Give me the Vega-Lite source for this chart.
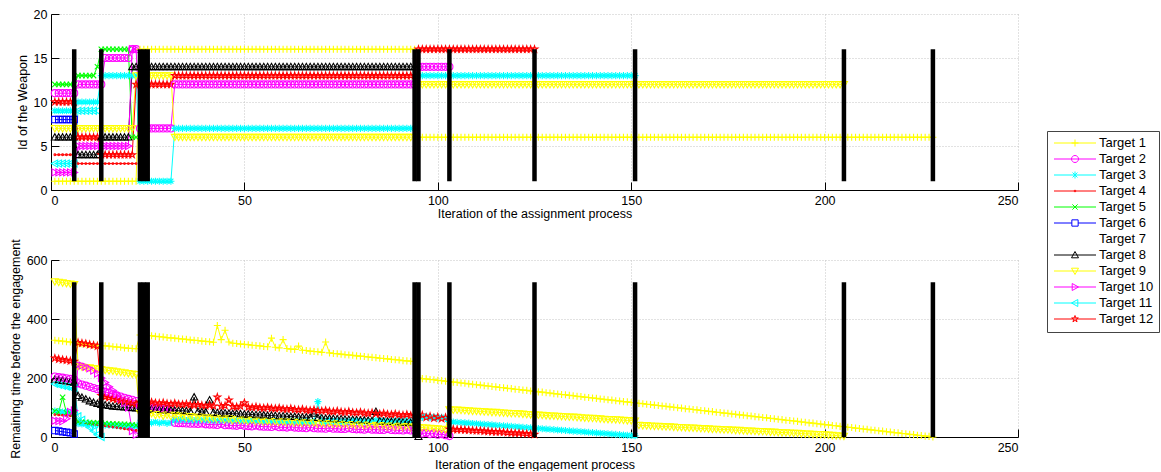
{
  "$schema": "https://vega.github.io/schema/vega-lite/v6.json",
  "background": "white",
  "padding": {"left": 9, "top": 8, "right": 0, "bottom": 0},
  "spacing": 18,
  "config": {
    "view": {"stroke": null},
    "font": "Liberation Sans",
    "axis": {
      "labelFont": "Liberation Sans", "labelFontSize": 12.5, "labelColor": "#000",
      "titleFont": "Liberation Sans", "titleFontSize": 12.5, "titleFontWeight": "normal", "titleColor": "#000",
      "domainColor": "#000", "tickColor": "#000", "tickSize": -8, "labelPadding": 12,
      "gridColor": "#c4c4c4", "gridDash": [1, 2], "gridOpacity": 1, "titlePadding": 4
    },
    "legend": {
      "orient": "none", "legendX": 996, "legendY": 117,
      "strokeColor": "#444", "fillColor": "white", "padding": 5.5, "cornerRadius": 0,
      "labelFont": "Liberation Sans", "labelFontSize": 13, "labelColor": "#000",
      "symbolSize": 49, "symbolStrokeWidth": 1, "symbolOffset": 16, "labelOffset": 17.5, "rowPadding": 2
    }
  },
  "datasets": {
    "bars": [{"x":6},{"x":13},{"x":23},{"x":24},{"x":25},{"x":94},{"x":95},{"x":103},{"x":125},{"x":151},{"x":205},{"x":228}],
    "rows": [
{"x":1,"a":1,"b":11,"c":9,"d":4,"e":12,"f":8,"h":6,"i":7,"j":2,"k":3,"l":10,"A":328,"B":205,"C":88,"D":76,"E":88,"F":22,"H":195,"I":527,"J":55,"K":180,"L":267},
{"x":2,"a":1,"b":11,"c":9,"d":4,"e":12,"f":8,"h":6,"i":7,"j":2,"k":3,"l":10,"A":326,"B":203,"C":86,"D":75,"E":85,"F":20,"H":193,"I":525,"J":54,"K":177,"L":264},
{"x":3,"a":1,"b":11,"c":9,"d":4,"e":12,"f":8,"h":6,"i":7,"j":2,"k":3,"l":10,"A":325,"B":201,"C":85,"D":74,"E":135,"F":18,"H":191,"I":523,"J":53,"K":174,"L":262},
{"x":4,"a":1,"b":11,"c":9,"d":4,"e":12,"f":8,"h":6,"i":7,"j":2,"k":3,"l":10,"A":323,"B":199,"C":84,"D":73,"E":82,"F":16,"H":189,"I":521,"J":62,"K":171,"L":260},
{"x":5,"a":1,"b":11,"c":9,"d":4,"e":12,"f":8,"h":6,"i":7,"j":2,"k":3,"l":10,"A":322,"B":197,"C":83,"D":72,"E":80,"F":14,"H":187,"I":519,"J":85,"K":168,"L":258},
{"x":6,"a":1,"b":11,"c":9,"d":4,"e":12,"f":8,"h":6,"i":7,"j":2,"k":3,"l":10,"A":320,"B":195,"C":82,"D":71,"E":78,"F":10,"H":185,"I":517,"J":90,"K":165,"L":256},
{"x":7,"a":1,"b":12,"c":10,"d":3,"e":13,"h":4,"i":7,"j":5,"k":9,"l":6,"A":318,"B":182,"C":45,"D":52,"E":52,"H":140,"I":240,"J":245,"K":70,"L":320},
{"x":8,"a":1,"b":12,"c":10,"d":3,"e":13,"h":4,"i":7,"j":5,"k":9,"l":6,"A":316,"B":178,"C":44,"D":50,"E":51,"H":134,"I":238,"J":242,"K":58,"L":318},
{"x":9,"a":1,"b":12,"c":10,"d":3,"e":13,"h":4,"i":7,"j":5,"k":9,"l":6,"A":315,"B":174,"C":44,"D":48,"E":50,"H":128,"I":236,"J":238,"K":45,"L":316},
{"x":10,"a":1,"b":12,"c":10,"d":3,"e":13,"h":4,"i":7,"j":5,"k":9,"l":6,"A":314,"B":170,"C":43,"D":46,"E":49,"H":122,"I":235,"J":233,"K":32,"L":313},
{"x":11,"a":1,"b":12,"c":10,"d":3,"e":13,"h":4,"i":7,"j":5,"k":9,"l":6,"A":312,"B":166,"C":42,"D":44,"E":48,"H":117,"I":233,"J":225,"K":20,"L":311},
{"x":12,"a":1,"b":12,"c":10,"d":3,"e":14,"h":4,"i":7,"j":5,"k":9,"l":6,"A":311,"B":162,"C":42,"D":42,"E":48,"H":113,"I":231,"J":215,"K":8,"L":308},
{"x":13,"a":1,"b":12,"c":13,"d":3,"e":16,"h":6,"i":7,"j":5,"l":4,"A":310,"B":158,"C":41,"D":40,"E":47,"H":110,"I":229,"J":200,"K":0,"L":140},
{"x":14,"a":1,"b":15,"c":13,"d":3,"e":16,"h":6,"i":7,"j":5,"l":4,"A":309,"B":153,"C":40,"D":38,"E":46,"H":108,"I":227,"J":185,"L":136},
{"x":15,"a":1,"b":15,"c":13,"d":3,"e":16,"h":6,"i":7,"j":5,"l":4,"A":308,"B":149,"C":40,"D":36,"E":45,"H":106,"I":225,"J":170,"L":133},
{"x":16,"a":1,"b":15,"c":13,"d":3,"e":16,"h":6,"i":7,"j":5,"l":4,"A":306,"B":145,"C":39,"D":34,"E":45,"H":104,"I":224,"J":158,"L":130},
{"x":17,"a":1,"b":15,"c":13,"d":3,"e":16,"h":6,"i":7,"j":5,"l":4,"A":305,"B":141,"C":38,"D":32,"E":44,"H":103,"I":222,"J":145,"L":127},
{"x":18,"a":1,"b":15,"c":13,"d":3,"e":16,"h":6,"i":7,"j":5,"l":4,"A":304,"B":137,"C":38,"D":30,"E":43,"H":102,"I":220,"J":130,"L":124},
{"x":19,"a":1,"b":15,"c":13,"d":3,"e":16,"h":6,"i":7,"j":5,"l":4,"A":302,"B":133,"C":37,"D":28,"E":43,"H":101,"I":218,"J":115,"L":121},
{"x":20,"a":1,"b":15,"c":13,"d":3,"e":16,"h":6,"i":7,"j":5,"l":4,"A":301,"B":129,"C":36,"D":26,"E":42,"H":100,"I":216,"J":100,"L":118},
{"x":21,"a":1,"b":16,"c":13,"d":3,"e":6,"h":14,"i":7,"j":16,"l":4,"A":300,"B":126,"C":36,"D":24,"E":41,"H":99,"I":214,"J":20,"L":115},
{"x":22,"a":1,"b":16,"c":13,"d":3,"e":6,"h":14,"i":13,"j":16,"l":12,"A":299,"B":122,"C":35,"D":22,"E":40,"H":98,"I":212,"J":8,"L":112},
{"x":23,"a":16,"b":7,"c":1,"h":14,"i":13,"l":12,"A":346,"B":104,"C":50,"H":96,"I":80,"L":118},
{"x":24,"a":16,"b":7,"c":1,"h":14,"i":13,"l":12,"A":345,"B":103,"C":49,"H":95,"I":79,"L":117},
{"x":25,"a":16,"b":7,"c":1,"h":14,"i":13,"l":12,"A":344,"B":102,"C":52,"H":95,"I":78,"L":116},
{"x":26,"a":16,"b":7,"c":1,"h":14,"i":13,"l":12,"A":343,"B":101,"C":48,"H":94,"I":80,"L":118},
{"x":27,"a":16,"b":7,"c":1,"h":14,"i":13,"l":12,"A":341,"B":100,"C":51,"H":93,"I":74,"L":115},
{"x":28,"a":16,"b":7,"c":1,"h":14,"i":13,"l":12,"A":340,"B":98,"C":47,"H":93,"I":77,"L":114},
{"x":29,"a":16,"b":7,"c":1,"h":14,"i":13,"l":12,"A":339,"B":97,"C":50,"H":92,"I":72,"L":116},
{"x":30,"a":16,"b":7,"c":1,"h":14,"i":13,"l":12,"A":337,"B":96,"C":46,"H":91,"I":75,"L":113},
{"x":31,"a":16,"b":7,"c":1,"h":14,"i":13,"l":12,"A":336,"B":95,"C":49,"H":91,"I":70,"L":112},
{"x":32,"a":16,"b":12,"c":7,"h":14,"i":6,"l":13,"A":335,"B":48,"C":58,"H":90,"I":74,"L":114},
{"x":33,"a":16,"b":12,"c":7,"h":14,"i":6,"l":13,"A":333,"B":47,"C":57,"H":89,"I":68,"L":111},
{"x":34,"a":16,"b":12,"c":7,"h":14,"i":6,"l":13,"A":332,"B":47,"C":59,"H":89,"I":72,"L":110},
{"x":35,"a":16,"b":12,"c":7,"h":14,"i":6,"l":13,"A":331,"B":46,"C":56,"H":88,"I":66,"L":112},
{"x":36,"a":16,"b":12,"c":7,"h":14,"i":6,"l":13,"A":329,"B":45,"C":58,"H":87,"I":70,"L":109},
{"x":37,"a":16,"b":12,"c":7,"h":14,"i":6,"l":13,"A":328,"B":45,"C":55,"H":135,"I":64,"L":108},
{"x":38,"a":16,"b":12,"c":7,"h":14,"i":6,"l":13,"A":327,"B":44,"C":57,"H":86,"I":68,"L":110},
{"x":39,"a":16,"b":12,"c":7,"h":14,"i":6,"l":13,"A":325,"B":46,"C":56,"H":85,"I":62,"L":107},
{"x":40,"a":16,"b":12,"c":7,"h":14,"i":6,"l":13,"A":324,"B":43,"C":58,"H":84,"I":66,"L":106},
{"x":41,"a":16,"b":12,"c":7,"h":14,"i":6,"l":13,"A":323,"B":42,"C":55,"H":125,"I":60,"L":108},
{"x":42,"a":16,"b":12,"c":7,"h":14,"i":6,"l":13,"A":321,"B":42,"C":57,"H":83,"I":65,"L":105},
{"x":43,"a":16,"b":12,"c":7,"h":14,"i":6,"l":13,"A":378,"B":41,"C":54,"H":82,"I":58,"L":135},
{"x":44,"a":16,"b":12,"c":7,"h":14,"i":6,"l":13,"A":330,"B":44,"C":56,"H":81,"I":63,"L":104},
{"x":45,"a":16,"b":12,"c":7,"h":14,"i":6,"l":13,"A":362,"B":40,"C":55,"H":81,"I":57,"L":106},
{"x":46,"a":16,"b":12,"c":7,"h":14,"i":6,"l":13,"A":322,"B":40,"C":57,"H":80,"I":62,"L":125},
{"x":47,"a":16,"b":12,"c":7,"h":14,"i":6,"l":13,"A":318,"B":39,"C":54,"H":79,"I":55,"L":103},
{"x":48,"a":16,"b":12,"c":7,"h":14,"i":6,"l":13,"A":317,"B":38,"C":56,"H":79,"I":60,"L":102},
{"x":49,"a":16,"b":12,"c":7,"h":14,"i":6,"l":13,"A":315,"B":41,"C":53,"H":78,"I":54,"L":104},
{"x":50,"a":16,"b":12,"c":7,"h":14,"i":6,"l":13,"A":314,"B":38,"C":55,"H":77,"I":58,"L":116},
{"x":51,"a":16,"b":12,"c":7,"h":14,"i":6,"l":13,"A":313,"B":37,"C":54,"H":77,"I":52,"L":101},
{"x":52,"a":16,"b":12,"c":7,"h":14,"i":6,"l":13,"A":311,"B":36,"C":56,"H":76,"I":57,"L":100},
{"x":53,"a":16,"b":12,"c":7,"h":14,"i":6,"l":13,"A":310,"B":39,"C":53,"H":75,"I":51,"L":102},
{"x":54,"a":16,"b":12,"c":7,"h":14,"i":6,"l":13,"A":309,"B":36,"C":55,"H":75,"I":55,"L":99},
{"x":55,"a":16,"b":12,"c":7,"h":14,"i":6,"l":13,"A":307,"B":35,"C":52,"H":74,"I":50,"L":98},
{"x":56,"a":16,"b":12,"c":7,"h":14,"i":6,"l":13,"A":306,"B":35,"C":54,"H":73,"I":54,"L":100},
{"x":57,"a":16,"b":12,"c":7,"h":14,"i":6,"l":13,"A":335,"B":34,"C":53,"H":73,"I":49,"L":97},
{"x":58,"a":16,"b":12,"c":7,"h":14,"i":6,"l":13,"A":304,"B":37,"C":55,"H":72,"I":53,"L":96},
{"x":59,"a":16,"b":12,"c":7,"h":14,"i":6,"l":13,"A":302,"B":33,"C":52,"H":71,"I":48,"L":98},
{"x":60,"a":16,"b":12,"c":7,"h":14,"i":6,"l":13,"A":330,"B":33,"C":54,"H":71,"I":52,"L":95},
{"x":61,"a":16,"b":12,"c":7,"h":14,"i":6,"l":13,"A":300,"B":32,"C":51,"H":70,"I":47,"L":94},
{"x":62,"a":16,"b":12,"c":7,"h":14,"i":6,"l":13,"A":298,"B":35,"C":53,"H":69,"I":51,"L":96},
{"x":63,"a":16,"b":12,"c":7,"h":14,"i":6,"l":13,"A":297,"B":32,"C":52,"H":69,"I":46,"L":93},
{"x":64,"a":16,"b":12,"c":7,"h":14,"i":6,"l":13,"A":308,"B":31,"C":54,"H":68,"I":50,"L":92},
{"x":65,"a":16,"b":12,"c":7,"h":14,"i":6,"l":13,"A":294,"B":31,"C":51,"H":67,"I":45,"L":94},
{"x":66,"a":16,"b":12,"c":7,"h":14,"i":6,"l":13,"A":293,"B":30,"C":53,"H":67,"I":49,"L":91},
{"x":67,"a":16,"b":12,"c":7,"h":14,"i":6,"l":13,"A":291,"B":33,"C":50,"H":66,"I":44,"L":90},
{"x":68,"a":16,"b":12,"c":7,"h":14,"i":6,"l":13,"A":290,"B":30,"C":52,"H":80,"I":48,"L":92},
{"x":69,"a":16,"b":12,"c":7,"h":14,"i":6,"l":13,"A":289,"B":29,"C":120,"H":65,"I":43,"L":89},
{"x":70,"a":16,"b":12,"c":7,"h":14,"i":6,"l":13,"A":287,"B":29,"C":53,"H":64,"I":47,"L":88},
{"x":71,"a":16,"b":12,"c":7,"h":14,"i":6,"l":13,"A":322,"B":28,"C":51,"H":63,"I":42,"L":90},
{"x":72,"a":16,"b":12,"c":7,"h":14,"i":6,"l":13,"A":285,"B":31,"C":55,"H":63,"I":46,"L":87},
{"x":73,"a":16,"b":12,"c":7,"h":14,"i":6,"l":13,"A":283,"B":28,"C":52,"H":62,"I":41,"L":86},
{"x":74,"a":16,"b":12,"c":7,"h":14,"i":6,"l":13,"A":282,"B":28,"C":54,"H":61,"I":45,"L":88},
{"x":75,"a":16,"b":12,"c":7,"h":14,"i":6,"l":13,"A":281,"B":27,"C":51,"H":61,"I":40,"L":85},
{"x":76,"a":16,"b":12,"c":7,"h":14,"i":6,"l":13,"A":279,"B":27,"C":53,"H":60,"I":44,"L":84},
{"x":77,"a":16,"b":12,"c":7,"h":14,"i":6,"l":13,"A":278,"B":30,"C":52,"H":59,"I":39,"L":86},
{"x":78,"a":16,"b":12,"c":7,"h":14,"i":6,"l":13,"A":277,"B":27,"C":56,"H":59,"I":43,"L":83},
{"x":79,"a":16,"b":12,"c":7,"h":14,"i":6,"l":13,"A":275,"B":26,"C":53,"H":58,"I":38,"L":82},
{"x":80,"a":16,"b":12,"c":7,"h":14,"i":6,"l":13,"A":274,"B":26,"C":55,"H":57,"I":42,"L":84},
{"x":81,"a":16,"b":12,"c":7,"h":14,"i":6,"l":13,"A":273,"B":25,"C":52,"H":57,"I":37,"L":81},
{"x":82,"a":16,"b":12,"c":7,"h":14,"i":6,"l":13,"A":271,"B":28,"C":54,"H":56,"I":41,"L":80},
{"x":83,"a":16,"b":12,"c":7,"h":14,"i":6,"l":13,"A":270,"B":25,"C":53,"H":55,"I":36,"L":82},
{"x":84,"a":16,"b":12,"c":7,"h":14,"i":6,"l":13,"A":269,"B":25,"C":57,"H":86,"I":40,"L":79},
{"x":85,"a":16,"b":12,"c":7,"h":14,"i":6,"l":13,"A":267,"B":24,"C":54,"H":54,"I":35,"L":78},
{"x":86,"a":16,"b":12,"c":7,"h":14,"i":6,"l":13,"A":266,"B":24,"C":56,"H":53,"I":39,"L":80},
{"x":87,"a":16,"b":12,"c":7,"h":14,"i":6,"l":13,"A":265,"B":27,"C":53,"H":53,"I":34,"L":77},
{"x":88,"a":16,"b":12,"c":7,"h":14,"i":6,"l":13,"A":263,"B":24,"C":55,"H":52,"I":38,"L":76},
{"x":89,"a":16,"b":12,"c":7,"h":14,"i":6,"l":13,"A":262,"B":23,"C":54,"H":51,"I":33,"L":78},
{"x":90,"a":16,"b":12,"c":7,"h":14,"i":6,"l":13,"A":261,"B":23,"C":58,"H":51,"I":37,"L":75},
{"x":91,"a":16,"b":12,"c":7,"h":14,"i":6,"l":13,"A":259,"B":22,"C":55,"H":50,"I":32,"L":74},
{"x":92,"a":16,"b":12,"c":7,"h":14,"i":6,"l":13,"A":258,"B":25,"C":57,"H":49,"I":36,"L":76},
{"x":93,"a":16,"b":12,"c":7,"h":14,"i":6,"l":13,"A":257,"B":22,"C":56,"H":49,"I":31,"L":73},
{"x":94,"a":16,"b":12,"c":7,"h":14,"i":6,"l":13,"A":256,"B":22,"C":60,"H":48,"I":35,"L":72},
{"x":95,"a":6,"b":14,"c":13,"i":12,"l":16,"A":200,"B":15,"C":68,"H":1,"I":33,"L":68},
{"x":96,"a":6,"b":14,"c":13,"i":12,"l":16,"A":198,"B":12,"C":66,"I":32,"L":74},
{"x":97,"a":6,"b":14,"c":13,"i":12,"l":16,"A":197,"B":14,"C":70,"I":31,"L":66},
{"x":98,"a":6,"b":14,"c":13,"i":12,"l":16,"A":195,"B":10,"C":65,"I":30,"L":70},
{"x":99,"a":6,"b":14,"c":13,"i":12,"l":16,"A":194,"B":12,"C":68,"I":29,"L":64},
{"x":100,"a":6,"b":14,"c":13,"i":12,"l":16,"A":192,"B":8,"C":64,"I":28,"L":68},
{"x":101,"a":6,"b":14,"c":13,"i":12,"l":16,"A":191,"B":10,"C":67,"I":27,"L":62},
{"x":102,"a":6,"b":14,"c":13,"i":12,"l":16,"A":189,"B":6,"C":63,"I":26,"L":66},
{"x":103,"a":6,"b":14,"c":13,"i":12,"l":16,"A":188,"B":3,"C":52,"I":93,"L":27},
{"x":104,"a":6,"c":13,"i":12,"l":16,"A":186,"C":51,"I":92,"L":26},
{"x":105,"a":6,"c":13,"i":12,"l":16,"A":185,"C":50,"I":92,"L":25},
{"x":106,"a":6,"c":13,"i":12,"l":16,"A":183,"C":49,"I":91,"L":25},
{"x":107,"a":6,"c":13,"i":12,"l":16,"A":182,"C":48,"I":90,"L":24},
{"x":108,"a":6,"c":13,"i":12,"l":16,"A":180,"C":47,"I":89,"L":23},
{"x":109,"a":6,"c":13,"i":12,"l":16,"A":179,"C":46,"I":88,"L":22},
{"x":110,"a":6,"c":13,"i":12,"l":16,"A":177,"C":45,"I":88,"L":21},
{"x":111,"a":6,"c":13,"i":12,"l":16,"A":176,"C":44,"I":87,"L":21},
{"x":112,"a":6,"c":13,"i":12,"l":16,"A":174,"C":43,"I":86,"L":20},
{"x":113,"a":6,"c":13,"i":12,"l":16,"A":173,"C":42,"I":85,"L":19},
{"x":114,"a":6,"c":13,"i":12,"l":16,"A":171,"C":41,"I":84,"L":18},
{"x":115,"a":6,"c":13,"i":12,"l":16,"A":170,"C":40,"I":84,"L":17},
{"x":116,"a":6,"c":13,"i":12,"l":16,"A":168,"C":39,"I":83,"L":17},
{"x":117,"a":6,"c":13,"i":12,"l":16,"A":167,"C":38,"I":82,"L":16},
{"x":118,"a":6,"c":13,"i":12,"l":16,"A":165,"C":37,"I":81,"L":15},
{"x":119,"a":6,"c":13,"i":12,"l":16,"A":164,"C":36,"I":80,"L":14},
{"x":120,"a":6,"c":13,"i":12,"l":16,"A":162,"C":35,"I":80,"L":13},
{"x":121,"a":6,"c":13,"i":12,"l":16,"A":161,"C":34,"I":79,"L":13},
{"x":122,"a":6,"c":13,"i":12,"l":16,"A":159,"C":33,"I":78,"L":12},
{"x":123,"a":6,"c":13,"i":12,"l":16,"A":158,"C":32,"I":77,"L":11},
{"x":124,"a":6,"c":13,"i":12,"l":16,"A":156,"C":31,"I":76,"L":10},
{"x":125,"a":6,"c":13,"i":12,"l":16,"A":155,"C":30,"I":76,"L":9},
{"x":126,"a":6,"c":13,"i":12,"A":153,"C":29,"I":75},
{"x":127,"a":6,"c":13,"i":12,"A":152,"C":28,"I":74},
{"x":128,"a":6,"c":13,"i":12,"A":150,"C":27,"I":73},
{"x":129,"a":6,"c":13,"i":12,"A":149,"C":26,"I":72},
{"x":130,"a":6,"c":13,"i":12,"A":147,"C":25,"I":72},
{"x":131,"a":6,"c":13,"i":12,"A":146,"C":24,"I":71},
{"x":132,"a":6,"c":13,"i":12,"A":144,"C":23,"I":70},
{"x":133,"a":6,"c":13,"i":12,"A":143,"C":22,"I":69},
{"x":134,"a":6,"c":13,"i":12,"A":141,"C":21,"I":68},
{"x":135,"a":6,"c":13,"i":12,"A":140,"C":20,"I":68},
{"x":136,"a":6,"c":13,"i":12,"A":138,"C":19,"I":67},
{"x":137,"a":6,"c":13,"i":12,"A":137,"C":18,"I":66},
{"x":138,"a":6,"c":13,"i":12,"A":135,"C":17,"I":65},
{"x":139,"a":6,"c":13,"i":12,"A":134,"C":16,"I":64},
{"x":140,"a":6,"c":13,"i":12,"A":132,"C":15,"I":64},
{"x":141,"a":6,"c":13,"i":12,"A":131,"C":14,"I":63},
{"x":142,"a":6,"c":13,"i":12,"A":129,"C":13,"I":62},
{"x":143,"a":6,"c":13,"i":12,"A":128,"C":12,"I":61},
{"x":144,"a":6,"c":13,"i":12,"A":126,"C":11,"I":60},
{"x":145,"a":6,"c":13,"i":12,"A":125,"C":10,"I":60},
{"x":146,"a":6,"c":13,"i":12,"A":123,"C":9,"I":59},
{"x":147,"a":6,"c":13,"i":12,"A":122,"C":8,"I":58},
{"x":148,"a":6,"c":13,"i":12,"A":120,"C":7,"I":57},
{"x":149,"a":6,"c":13,"i":12,"A":119,"C":6,"I":56},
{"x":150,"a":6,"c":13,"i":12,"A":117,"C":5,"I":56},
{"x":151,"a":6,"c":13,"i":12,"A":116,"C":4,"I":55},
{"x":152,"a":6,"i":12,"A":114,"I":40},
{"x":153,"a":6,"i":12,"A":113,"I":39},
{"x":154,"a":6,"i":12,"A":111,"I":39},
{"x":155,"a":6,"i":12,"A":110,"I":38},
{"x":156,"a":6,"i":12,"A":108,"I":37},
{"x":157,"a":6,"i":12,"A":107,"I":37},
{"x":158,"a":6,"i":12,"A":105,"I":36},
{"x":159,"a":6,"i":12,"A":104,"I":35},
{"x":160,"a":6,"i":12,"A":102,"I":35},
{"x":161,"a":6,"i":12,"A":101,"I":34},
{"x":162,"a":6,"i":12,"A":99,"I":33},
{"x":163,"a":6,"i":12,"A":98,"I":33},
{"x":164,"a":6,"i":12,"A":96,"I":32},
{"x":165,"a":6,"i":12,"A":95,"I":31},
{"x":166,"a":6,"i":12,"A":93,"I":31},
{"x":167,"a":6,"i":12,"A":92,"I":30},
{"x":168,"a":6,"i":12,"A":90,"I":29},
{"x":169,"a":6,"i":12,"A":89,"I":29},
{"x":170,"a":6,"i":12,"A":87,"I":28},
{"x":171,"a":6,"i":12,"A":86,"I":27},
{"x":172,"a":6,"i":12,"A":84,"I":27},
{"x":173,"a":6,"i":12,"A":83,"I":26},
{"x":174,"a":6,"i":12,"A":81,"I":25},
{"x":175,"a":6,"i":12,"A":80,"I":25},
{"x":176,"a":6,"i":12,"A":78,"I":24},
{"x":177,"a":6,"i":12,"A":77,"I":23},
{"x":178,"a":6,"i":12,"A":75,"I":23},
{"x":179,"a":6,"i":12,"A":74,"I":22},
{"x":180,"a":6,"i":12,"A":72,"I":21},
{"x":181,"a":6,"i":12,"A":71,"I":21},
{"x":182,"a":6,"i":12,"A":69,"I":20},
{"x":183,"a":6,"i":12,"A":68,"I":19},
{"x":184,"a":6,"i":12,"A":66,"I":19},
{"x":185,"a":6,"i":12,"A":65,"I":18},
{"x":186,"a":6,"i":12,"A":63,"I":17},
{"x":187,"a":6,"i":12,"A":62,"I":17},
{"x":188,"a":6,"i":12,"A":60,"I":16},
{"x":189,"a":6,"i":12,"A":59,"I":15},
{"x":190,"a":6,"i":12,"A":57,"I":15},
{"x":191,"a":6,"i":12,"A":56,"I":14},
{"x":192,"a":6,"i":12,"A":54,"I":13},
{"x":193,"a":6,"i":12,"A":53,"I":13},
{"x":194,"a":6,"i":12,"A":51,"I":12},
{"x":195,"a":6,"i":12,"A":50,"I":11},
{"x":196,"a":6,"i":12,"A":48,"I":11},
{"x":197,"a":6,"i":12,"A":47,"I":10},
{"x":198,"a":6,"i":12,"A":45,"I":9},
{"x":199,"a":6,"i":12,"A":44,"I":9},
{"x":200,"a":6,"i":12,"A":42,"I":8},
{"x":201,"a":6,"i":12,"A":41,"I":7},
{"x":202,"a":6,"i":12,"A":39,"I":6},
{"x":203,"a":6,"i":12,"A":38,"I":5},
{"x":204,"a":6,"i":12,"A":36,"I":4},
{"x":205,"a":6,"i":12,"A":35,"I":3},
{"x":206,"a":6,"A":33},{"x":207,"a":6,"A":32},{"x":208,"a":6,"A":30},{"x":209,"a":6,"A":29},{"x":210,"a":6,"A":27},
{"x":211,"a":6,"A":26},{"x":212,"a":6,"A":24},{"x":213,"a":6,"A":23},{"x":214,"a":6,"A":21},{"x":215,"a":6,"A":20},
{"x":216,"a":6,"A":18},{"x":217,"a":6,"A":17},{"x":218,"a":6,"A":15},{"x":219,"a":6,"A":14},{"x":220,"a":6,"A":12},
{"x":221,"a":6,"A":11},{"x":222,"a":6,"A":9},{"x":223,"a":6,"A":8},{"x":224,"a":6,"A":6},{"x":225,"a":6,"A":5},
{"x":226,"a":6,"A":3},{"x":227,"a":6,"A":2},{"x":228,"a":6,"A":0}
    ]
  },
  "resolve": {"scale": {"color": "shared", "shape": "shared"}},
  "vconcat": [
    {
      "width": 967, "height": 176,
      "layer": [
        {
          "data": {"name": "rows"},
          "transform": [
            {"fold": ["a","b","c","d","e","f","h","i","j","k","l"], "as": ["key","v"]},
            {"filter": "isValid(datum.v)"},
            {"calculate": "'Target ' + (indexof('abcdefghijkl', datum.key) + 1)", "as": "t"}
          ],
          "mark": {"type": "line", "strokeWidth": 1, "interpolate": "linear"},
          "encoding": {
            "x": {"field": "x", "type": "quantitative", "scale": {"domain": [0, 250], "nice": false}, "axis": {"title": "Iteration of the assignment process", "values": [0,50,100,150,200,250], "grid": true, "titlePadding": 1}},
            "y": {"field": "v", "type": "quantitative", "scale": {"domain": [0, 20], "nice": false}, "axis": {"title": "Id of the Weapon", "values": [0,5,10,15,20], "grid": true}},
            "color": {"field": "t", "type": "nominal", "legend": {"title": null},
              "scale": {"domain": ["Target 1","Target 2","Target 3","Target 4","Target 5","Target 6","Target 7","Target 8","Target 9","Target 10","Target 11","Target 12"],
                        "range": ["#ffff00","#ff00ff","#00ffff","#ff0000","#00ff00","#0000ff","#ffffff","#000000","#ffff00","#ff00ff","#00ffff","#ff0000"]}}
          }
        },
        {
          "data": {"name": "rows"},
          "transform": [
            {"fold": ["a","b","c","d","e","f","h","i","j","k","l"], "as": ["key","v"]},
            {"filter": "isValid(datum.v)"},
            {"calculate": "'Target ' + (indexof('abcdefghijkl', datum.key) + 1)", "as": "t"},
            {"calculate": "{'Target 1':'M-1,0L1,0M0,-1L0,1','Target 2':'circle','Target 3':'M-1,0L1,0M0,-1L0,1M-0.7,-0.7L0.7,0.7M-0.7,0.7L0.7,-0.7','Target 4':'M-0.25,0A0.25,0.25 0 1,0 0.25,0A0.25,0.25 0 1,0 -0.25,0','Target 5':'M-0.75,-0.75L0.75,0.75M-0.75,0.75L0.75,-0.75','Target 6':'M-0.9,-0.9L0.9,-0.9L0.9,0.9L-0.9,0.9Z','Target 7':'M0,0','Target 8':'M0,-1L1,0.8L-1,0.8Z','Target 9':'M-1,-0.8L1,-0.8L0,1Z','Target 10':'M-0.8,-1L1,0L-0.8,1Z','Target 11':'M0.8,-1L-1,0L0.8,1Z','Target 12':'M0,-1L0.225,-0.309L0.951,-0.309L0.363,0.118L0.588,0.809L0,0.382L-0.588,0.809L-0.363,0.118L-0.951,-0.309L-0.225,-0.309Z'}[datum.t]", "as": "mk"}
          ],
          "mark": {"type": "point", "filled": false, "strokeWidth": 1.1, "size": 50, "opacity": 1},
          "encoding": {
            "x": {"field": "x", "type": "quantitative"},
            "y": {"field": "v", "type": "quantitative"},
            "color": {"field": "t", "type": "nominal", "legend": {"title": null}},
            "shape": {"field": "mk", "type": "nominal", "scale": null, "legend": null}
          }
        },
        {
          "data": {"name": "rows"},
          "transform": [
            {"filter": "false"},
            {"calculate": "'x'", "as": "t"}
          ],
          "mark": {"type": "point", "filled": false, "strokeWidth": 1},
          "encoding": {
            "color": {"field": "t", "type": "nominal", "legend": {"title": null}},
            "shape": {"field": "t", "type": "nominal", "legend": {"title": null},
              "scale": {"domain": ["Target 1","Target 2","Target 3","Target 4","Target 5","Target 6","Target 7","Target 8","Target 9","Target 10","Target 11","Target 12"],
                        "range": ["M-6,0L6,0M-1,0L1,0M0,-1L0,1","M-6,0L6,0M-1,0A1,1 0 1,0 1,0A1,1 0 1,0 -1,0","M-6,0L6,0M0,-1L0,1M-0.7,-0.7L0.7,0.7M-0.7,0.7L0.7,-0.7","M-6,0L6,0M-0.25,0A0.25,0.25 0 1,0 0.25,0A0.25,0.25 0 1,0 -0.25,0","M-6,0L6,0M-0.75,-0.75L0.75,0.75M-0.75,0.75L0.75,-0.75","M-6,0L-0.9,0M0.9,0L6,0M-0.9,-0.9L0.9,-0.9L0.9,0.9L-0.9,0.9Z","M0,0","M-6,0L6,0M0,-1L1,0.8L-1,0.8Z","M-6,0L6,0M-1,-0.8L1,-0.8L0,1Z","M-6,0L6,0M-0.8,-1L1,0L-0.8,1Z","M-6,0L6,0M0.8,-1L-1,0L0.8,1Z","M-6,0L6,0M0,-1L0.225,-0.309L0.951,-0.309L0.363,0.118L0.588,0.809L0,0.382L-0.588,0.809L-0.363,0.118L-0.951,-0.309L-0.225,-0.309Z"]}}
          }
        },
        {
          "data": {"name": "bars"},
          "mark": {"type": "rule", "color": "#000", "strokeWidth": 4.5, "strokeCap": "butt"},
          "encoding": {
            "x": {"field": "x", "type": "quantitative"},
            "y": {"datum": 1, "type": "quantitative"},
            "y2": {"datum": 16}
          }
        }
      ]
    },
    {
      "width": 967, "height": 177,
      "layer": [
        {
          "data": {"name": "rows"},
          "transform": [
            {"fold": ["A","B","C","D","E","F","H","I","J","K","L"], "as": ["key","v"]},
            {"filter": "isValid(datum.v)"},
            {"calculate": "'Target ' + (indexof('ABCDEFGHIJKL', datum.key) + 1)", "as": "t"}
          ],
          "mark": {"type": "line", "strokeWidth": 1, "interpolate": "linear"},
          "encoding": {
            "x": {"field": "x", "type": "quantitative", "scale": {"domain": [0, 250], "nice": false}, "axis": {"title": "Iteration of the engagement process", "values": [0,50,100,150,200,250], "grid": true, "titlePadding": 5}},
            "y": {"field": "v", "type": "quantitative", "scale": {"domain": [0, 600], "nice": false}, "axis": {"title": "Remaining time before the engagement", "values": [0,100,200,300,400,500,600], "grid": true}},
            "color": {"field": "t", "type": "nominal", "legend": {"title": null}}
          }
        },
        {
          "data": {"name": "rows"},
          "transform": [
            {"fold": ["A","B","C","D","E","F","H","I","J","K","L"], "as": ["key","v"]},
            {"filter": "isValid(datum.v)"},
            {"calculate": "'Target ' + (indexof('ABCDEFGHIJKL', datum.key) + 1)", "as": "t"},
            {"calculate": "{'Target 1':'M-1,0L1,0M0,-1L0,1','Target 2':'circle','Target 3':'M-1,0L1,0M0,-1L0,1M-0.7,-0.7L0.7,0.7M-0.7,0.7L0.7,-0.7','Target 4':'M-0.25,0A0.25,0.25 0 1,0 0.25,0A0.25,0.25 0 1,0 -0.25,0','Target 5':'M-0.75,-0.75L0.75,0.75M-0.75,0.75L0.75,-0.75','Target 6':'M-0.9,-0.9L0.9,-0.9L0.9,0.9L-0.9,0.9Z','Target 7':'M0,0','Target 8':'M0,-1L1,0.8L-1,0.8Z','Target 9':'M-1,-0.8L1,-0.8L0,1Z','Target 10':'M-0.8,-1L1,0L-0.8,1Z','Target 11':'M0.8,-1L-1,0L0.8,1Z','Target 12':'M0,-1L0.225,-0.309L0.951,-0.309L0.363,0.118L0.588,0.809L0,0.382L-0.588,0.809L-0.363,0.118L-0.951,-0.309L-0.225,-0.309Z'}[datum.t]", "as": "mk"}
          ],
          "mark": {"type": "point", "filled": false, "strokeWidth": 1.1, "size": 50, "opacity": 1},
          "encoding": {
            "x": {"field": "x", "type": "quantitative"},
            "y": {"field": "v", "type": "quantitative"},
            "color": {"field": "t", "type": "nominal", "legend": {"title": null}},
            "shape": {"field": "mk", "type": "nominal", "scale": null, "legend": null}
          }
        },
        {
          "data": {"name": "bars"},
          "mark": {"type": "rule", "color": "#000", "strokeWidth": 4.5, "strokeCap": "butt"},
          "encoding": {
            "x": {"field": "x", "type": "quantitative"},
            "y": {"datum": 0, "type": "quantitative"},
            "y2": {"datum": 525}
          }
        }
      ]
    }
  ]
}
